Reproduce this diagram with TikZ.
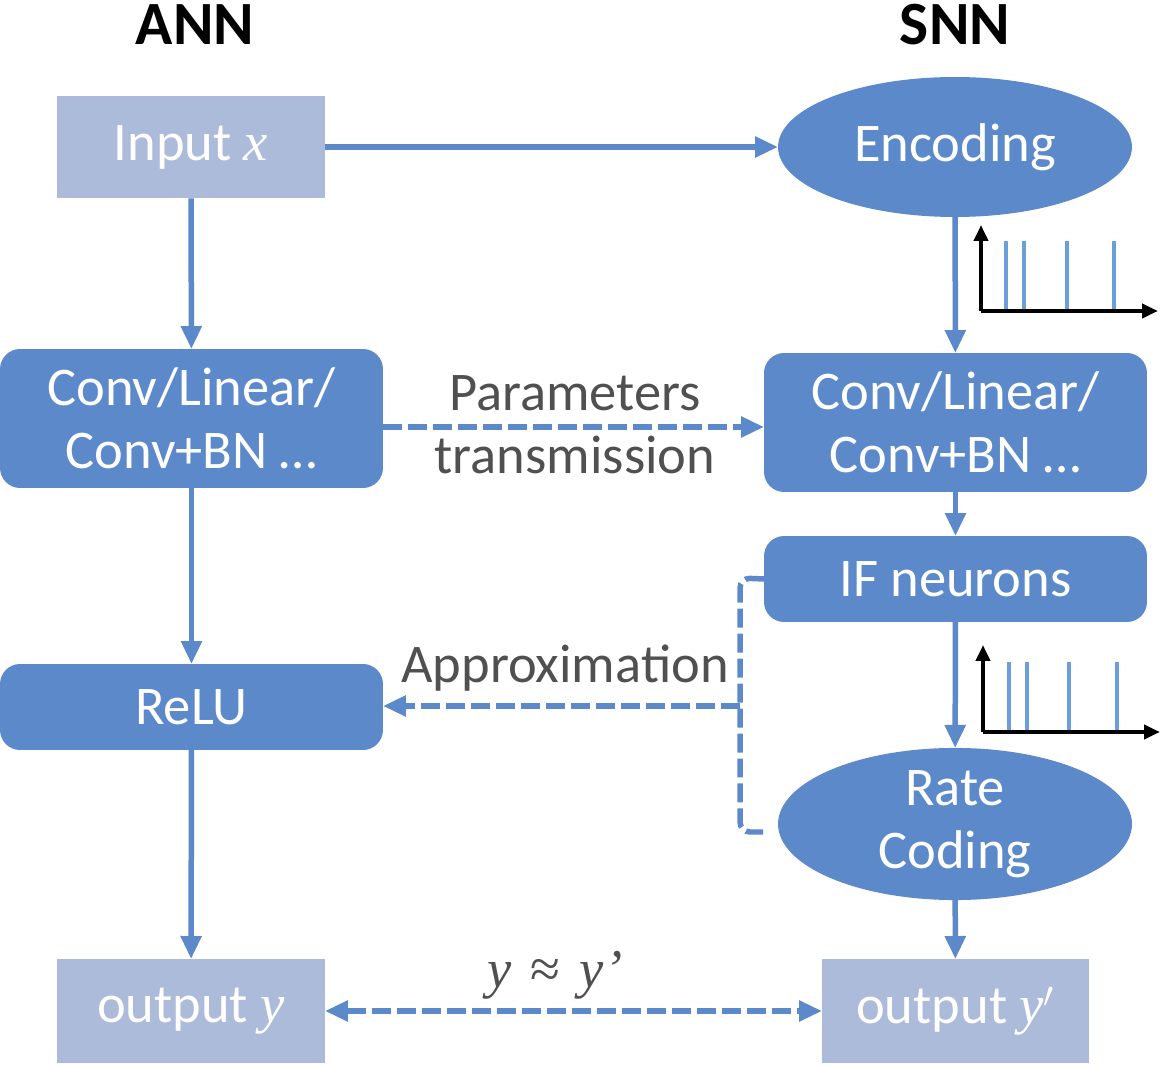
\documentclass[tikz,border=0pt]{standalone}
\usepackage{fontspec}
\setmainfont{Carlito}
\newfontfamily\mathvar{Liberation Serif}
\newcommand\mv[1]{{\mathvar\itshape #1}}
\usetikzlibrary{arrows.meta,shapes.geometric}
\definecolor{mainblue}{RGB}{92,137,202}
\definecolor{lightbox}{RGB}{173,187,219}
\definecolor{spikeblue}{RGB}{106,159,218}
\definecolor{txtgray}{RGB}{80,80,80}
\begin{document}
\begin{tikzpicture}[x=0.02cm,y=-0.02cm,
  every node/.style={outer sep=0pt,inner sep=0pt},
  bigtxt/.style={font=\fontsize{31}{36}\selectfont},
  lbox/.style={rectangle,fill=lightbox,text=white,bigtxt,minimum width=5.36cm,minimum height=2.06cm},
  rbox/.style={rectangle,rounded corners=0.4cm,fill=mainblue,text=white,bigtxt,minimum width=7.66cm,align=center},
  ell/.style={ellipse,fill=mainblue,text=white,bigtxt,minimum width=7.08cm,minimum height=2.8cm,align=center},
  flow/.style={draw=mainblue,line width=0.11cm,-{Triangle[length=0.46cm,width=0.4cm]}},
  dflow/.style={flow,dash pattern=on 0.38cm off 0.12cm},
  plain/.style={draw=mainblue,line width=0.11cm,dash pattern=on 0.38cm off 0.12cm,rounded corners=0.2cm},
  axis/.style={draw=black,line width=0.09cm,-{Triangle[length=0.32cm,width=0.28cm]}},
  spike/.style={draw=spikeblue,line width=0.09cm},
  title/.style={font=\fontsize{35}{40}\selectfont\bfseries}
]
\useasboundingbox (0,0) rectangle (1161,1067);
% titles
\node[title] (tann) at (195,25) {ANN};
\node[title] (tsnn) at (955,25) {SNN};
% ANN column
\node[lbox] (inp) at (191,147) {Input \mv{x}};
\node[rbox,minimum height=2.78cm] (aconv) at (191.5,418.5) {Conv/Linear/\\Conv+BN \dots};
\node[rbox,minimum height=1.72cm] (relu) at (191.5,707) {ReLU};
\node[lbox,minimum height=2.08cm] (outy) at (191,1011) {output \mv{y}};
% SNN column
\node[ell] (enc) at (955,147) {Encoding};
\node[rbox,minimum height=2.78cm] (sconv) at (955.5,422.5) {Conv/Linear/\\Conv+BN \dots};
\node[rbox,minimum height=1.72cm] (ifn) at (955.5,579) {IF neurons};
\node[ell] (rate) at (955,824) {Rate\\Coding};
\node[lbox,minimum height=2.08cm,minimum width=5.34cm] (outyp) at (955.5,1011) {output \mv{y}$'$};
% vertical flows
\draw[flow] (inp) -- (aconv);
\draw[flow] (aconv) -- (relu);
\draw[flow] (relu) -- (outy);
\draw[flow] (enc) -- (sconv);
\draw[flow] (sconv) -- (ifn);
\draw[flow] (ifn) -- (rate);
\draw[flow] (rate) -- (outyp);
% horizontal
\draw[flow] (inp) -- (enc);
\draw[dflow] (aconv.east |- 0,427) -- (sconv.west |- 0,427);
\node[bigtxt,text=txtgray,align=center] (ptxt) at (575,425) {Parameters\\transmission};
% approximation bracket
\coordinate (bx) at (740,706);
\coordinate (bb) at (763,832);
\draw[plain] (ifn.west) -- (740,578) -- (740,832) -- (bb);
\draw[dflow] (bx) -- (relu.east |- bx);
\node[bigtxt,text=txtgray] (atxt) at (565,668) {Approximation};
% output relation
\draw[draw=mainblue,line width=0.11cm,dash pattern=on 0.38cm off 0.12cm,{Triangle[length=0.46cm,width=0.4cm]}-{Triangle[length=0.46cm,width=0.4cm]}] (outy) -- (outyp);
\node[bigtxt,text=txtgray] (ytxt) at (555,975) {\mv{y}\hspace{0.35em}{\mathvar≈}\hspace{0.35em}\mv{y’}};
% spike train 1
\coordinate (o1) at (981,311);
\coordinate (y1) at (981,225);
\coordinate (x1) at (1158,311);
\foreach \s in {1006,1024,1067,1114} \draw[spike] (\s,241) -- (\s,309);
\draw[axis] (o1) -- (y1);
\draw[axis] (o1) -- (x1);
% spike train 2
\coordinate (o2) at (983,732);
\coordinate (y2) at (983,645);
\coordinate (x2) at (1160,732);
\foreach \s in {1009,1027,1069,1117} \draw[spike] (\s,662) -- (\s,730);
\draw[axis] (o2) -- (y2);
\draw[axis] (o2) -- (x2);
\end{tikzpicture}
\end{document}
